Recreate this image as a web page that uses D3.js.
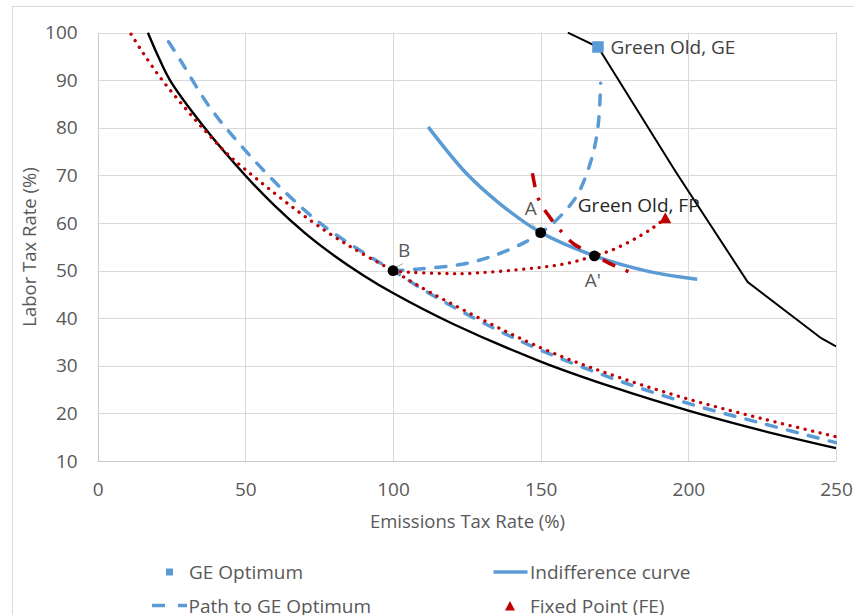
<!DOCTYPE html>
<html>
<head>
<meta charset="utf-8">
<script src="https://cdn.jsdelivr.net/npm/d3@7"></script>
<style>
  html, body { margin: 0; padding: 0; background: #fff; }
  svg { display: block; font-family: "Open Sans", sans-serif; }
</style>
</head>
<body>
<svg id="chart" width="854" height="615"></svg>
<script>
// ---------- data ----------
const xTicks = [0, 50, 100, 150, 200, 250];
const yTicks = [10, 20, 30, 40, 50, 60, 70, 80, 90, 100];

// lower black solid curve
const lowerBlackX = [17, 20.5, 24.5, 36, 50, 60, 70, 80, 90, 100, 120, 150, 175, 200, 225, 250];
const lowerBlackY = [100, 95, 90, 80.2, 70, 63.6, 58, 53.2, 49, 45.3, 38.9, 30.9, 25.4, 20.6, 16.4, 12.7];

// upper black solid line
const upperBlackX = [159.2, 169.4, 195.5, 220.1, 245, 250];
const upperBlackY = [100, 97, 71, 47.6, 35.8, 34.1];

// lower blue dashed curve
const blueLowX = [24, 28, 38, 49.5, 62.8, 76.3, 91, 100, 112.4, 130, 150, 175, 200, 225, 250];
const blueLowY = [98.1, 94.2, 84.3, 75.6, 66.9, 59.5, 53.4, 50, 45.2, 39.2, 33.3, 27.2, 22.1, 17.9, 13.85];

// lower red dotted curve
const redLowX = [11.3, 15.4, 21.4, 27.8, 34.6, 43.6, 49.3, 57.2, 67.3, 77.5, 86.5, 95, 100, 112.4, 150, 175, 200, 225, 250];
const redLowY = [99.7, 95.7, 90.4, 85.5, 80.6, 74.7, 71.6, 67.6, 62.7, 58.2, 54.7, 51.7, 50, 45.5, 33.8, 27.9, 23, 18.9, 15.1];

// Path to GE Optimum (blue dashed, B -> GE)
const pathGEX = [100, 107.9, 124.8, 136.1, 145.1, 150, 154.1, 162, 167.1, 169.4, 170.3];
const pathGEY = [50, 50.3, 51.5, 53.6, 56.1, 58, 59.9, 65.5, 73.2, 80.2, 89.4];

// Indifference curve (blue solid)
const indiffX = [111.9, 124.8, 136.1, 149.9, 168.2, 186.8, 203];
const indiffY = [80.2, 70.45, 64.1, 58.05, 53.1, 49.8, 48.2];

// red dotted path B -> fixed point
const pathFPX = [100, 102.3, 118, 124.8, 147.4, 158.7, 168.2, 175.6, 186.8, 192.2];
const pathFPY = [50, 49.8, 49.4, 49.4, 50.5, 51.5, 53.1, 54.7, 58.5, 61];

// red long-dash-dot curve
const redDashX = [147.2, 149.3, 153, 157.3, 161, 168, 174.7, 181.5];
const redDashY = [70.45, 65, 61.3, 58, 55.7, 53.3, 51.1, 49.4];

// markers
const geOptimum = { x: 169.4, y: 97, label: "Green Old, GE" };
const fixedPoint = { x: 192.2, y: 61, label: "Green Old, FP" };
const dotNames = ["B", "A", "A'"];
const dotX = [100, 150, 168.2];
const dotY = [50, 58, 53.1];

const legendNames = ["GE Optimum", "Indifference curve", "Path to GE Optimum", "Fixed Point (FE)"];

// ---------- drawing ----------
const zip = (xs, ys) => xs.map((x, i) => [x, ys[i]]);
const svg = d3.select("#chart");
const BLUE = "#5B9BD5", RED = "#C00000", GRID = "#D9D9D9", TXT = "#595959";

const x = d3.scaleLinear().domain([0, 250]).range([97.7, 836]);
const y = d3.scaleLinear().domain([10, 100]).range([461, 32.7]);

// outer chart border
svg.append("rect").attr("x", 12.5).attr("y", 6.5).attr("width", 900).attr("height", 700)
  .attr("fill", "none").attr("stroke", GRID).attr("stroke-width", 1);

// gridlines
const grid = svg.append("g");
grid.selectAll("line.v").data(xTicks).join("line")
  .attr("x1", d => Math.round(x(d)) + 0.5).attr("x2", d => Math.round(x(d)) + 0.5)
  .attr("y1", y(10)).attr("y2", y(100))
  .attr("stroke", d => d === 0 ? "#C8C8C8" : GRID).attr("stroke-width", 1);
grid.selectAll("line.h").data(yTicks).join("line")
  .attr("y1", d => Math.round(y(d)) + 0.5).attr("y2", d => Math.round(y(d)) + 0.5)
  .attr("x1", x(0)).attr("x2", x(250))
  .attr("stroke", d => d === 10 ? "#C8C8C8" : GRID).attr("stroke-width", 1);

// axes (labels only, using d3 axes)
const xAxis = svg.append("g").attr("transform", `translate(0,${y(10) + 21})`)
  .call(d3.axisBottom(x).tickValues(xTicks).tickSize(0).tickPadding(0));
xAxis.select(".domain").remove();
xAxis.selectAll("text").attr("fill", TXT).attr("font-size", 19).attr("font-family", "Open Sans");

const yAxis = svg.append("g").attr("transform", `translate(${x(0) - 20},0)`)
  .call(d3.axisLeft(y).tickValues(yTicks).tickSize(0).tickPadding(0));
yAxis.select(".domain").remove();
yAxis.selectAll("text").attr("fill", TXT).attr("font-size", 19).attr("font-family", "Open Sans");

// axis titles
svg.append("text").attr("x", 467.5).attr("y", 520).attr("text-anchor", "middle")
  .attr("dominant-baseline", "central").attr("fill", TXT).attr("font-size", 18.5)
  .text("Emissions Tax Rate (%)");
svg.append("text").attr("transform", "translate(28.5,247) rotate(-90)").attr("text-anchor", "middle")
  .attr("dominant-baseline", "central").attr("fill", TXT).attr("font-size", 18.5)
  .text("Labor Tax Rate (%)");

// clip
svg.append("clipPath").attr("id", "plotclip").append("rect")
  .attr("x", x(0)).attr("y", y(100) - 1).attr("width", x(250) - x(0) + 1).attr("height", y(10) - y(100) + 2);
const plot = svg.append("g").attr("clip-path", "url(#plotclip)");

const smooth = d3.line().x(d => x(d[0])).y(d => y(d[1])).curve(d3.curveCatmullRom.alpha(0.5));
const straight = d3.line().x(d => x(d[0])).y(d => y(d[1]));

plot.append("path").attr("d", smooth(zip(lowerBlackX, lowerBlackY)))
  .attr("fill", "none").attr("stroke", "#000").attr("stroke-width", 2.4);
plot.append("path").attr("d", straight(zip(upperBlackX, upperBlackY)))
  .attr("fill", "none").attr("stroke", "#000").attr("stroke-width", 2);

plot.append("path").attr("d", smooth(zip(blueLowX, blueLowY)))
  .attr("fill", "none").attr("stroke", BLUE).attr("stroke-width", 3.5)
  .attr("stroke-dasharray", "10 11.5").attr("stroke-linecap", "round");
plot.append("path").attr("d", smooth(zip(redLowX, redLowY)))
  .attr("fill", "none").attr("stroke", RED).attr("stroke-width", 3.3)
  .attr("stroke-dasharray", "0.1 7.6").attr("stroke-linecap", "round");

plot.append("path").attr("d", smooth(zip(indiffX, indiffY)))
  .attr("fill", "none").attr("stroke", BLUE).attr("stroke-width", 3.5);

plot.append("path").attr("d", smooth(zip(pathGEX, pathGEY)))
  .attr("fill", "none").attr("stroke", BLUE).attr("stroke-width", 3.5)
  .attr("stroke-dasharray", "10 11.5").attr("stroke-linecap", "round");

plot.append("path").attr("d", smooth(zip(pathFPX, pathFPY)))
  .attr("fill", "none").attr("stroke", RED).attr("stroke-width", 3.3)
  .attr("stroke-dasharray", "0.1 7.6").attr("stroke-linecap", "round");

plot.append("path").attr("d", smooth(zip(redDashX, redDashY)))
  .attr("fill", "none").attr("stroke", RED).attr("stroke-width", 3.5)
  .attr("stroke-dasharray", "14 11 3 11");

// markers
const sq = 11.5;
svg.append("rect").attr("x", x(geOptimum.x) - sq / 2).attr("y", y(geOptimum.y) - sq / 2)
  .attr("width", sq).attr("height", sq).attr("fill", BLUE);
svg.append("path").attr("transform", `translate(${x(fixedPoint.x)},${y(fixedPoint.y)})`)
  .attr("d", "M0,-6 L6,5 L-6,5 Z").attr("fill", RED);

// leader lines for A and B labels
svg.append("line").attr("x1", x(dotX[1]) - 9).attr("y1", y(dotY[1]) - 9.5)
  .attr("x2", x(dotX[1]) - 4).attr("y2", y(dotY[1]) - 4).attr("stroke", "#A6A6A6").attr("stroke-width", 1);
svg.append("line").attr("x1", x(dotX[0]) + 2.5).attr("y1", y(dotY[0]) - 3)
  .attr("x2", x(dotX[0]) + 10).attr("y2", y(dotY[0]) - 7).attr("stroke", "#A6A6A6").attr("stroke-width", 1);

svg.selectAll("circle.dot").data(dotX).join("circle")
  .attr("cx", d => x(d)).attr("cy", (d, i) => y(dotY[i])).attr("r", 5.4).attr("fill", "#000");

// point labels
const labelOff = [[11, -21], [-10, -25], [-1.5, 24]];
svg.selectAll("text.ptl").data(dotNames).join("text")
  .attr("x", (d, i) => x(dotX[i]) + labelOff[i][0]).attr("y", (d, i) => y(dotY[i]) + labelOff[i][1])
  .attr("text-anchor", "middle").attr("dominant-baseline", "central")
  .attr("fill", TXT).attr("font-size", 19).text(d => d);

svg.append("text").attr("x", x(geOptimum.x) + 12.5).attr("y", y(geOptimum.y))
  .attr("dominant-baseline", "central").attr("fill", "#404040").attr("font-size", 19).text(geOptimum.label);
svg.append("text").attr("x", x(fixedPoint.x) - 87.5).attr("y", y(fixedPoint.y) - 13)
  .attr("dominant-baseline", "central").attr("fill", "#262626").attr("font-size", 19).text(fixedPoint.label);

// legend
const lg = svg.append("g").attr("font-size", 19).attr("fill", TXT);
lg.append("rect").attr("x", 166).attr("y", 568.5).attr("width", 7).attr("height", 7).attr("fill", BLUE);
lg.append("text").attr("x", 189).attr("y", 572).attr("dominant-baseline", "central").text(legendNames[0]);
lg.append("line").attr("x1", 493.5).attr("x2", 527.5).attr("y1", 572).attr("y2", 572)
  .attr("stroke", BLUE).attr("stroke-width", 3.5);
lg.append("text").attr("x", 530).attr("y", 572).attr("dominant-baseline", "central").text(legendNames[1]);
lg.append("line").attr("x1", 152).attr("x2", 187).attr("y1", 605.5).attr("y2", 605.5)
  .attr("stroke", BLUE).attr("stroke-width", 3.5).attr("stroke-dasharray", "13 13");
lg.append("text").attr("x", 188.5).attr("y", 605.5).attr("dominant-baseline", "central").text(legendNames[2]);
lg.append("path").attr("transform", "translate(510,606)").attr("d", "M0,-5 L5,4.5 L-5,4.5 Z").attr("fill", RED);
lg.append("text").attr("x", 530).attr("y", 605.5).attr("dominant-baseline", "central").text(legendNames[3]);
</script>
</body>
</html>
